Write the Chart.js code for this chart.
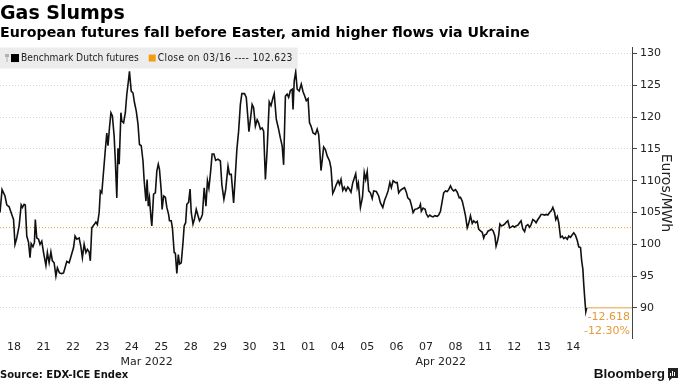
<!DOCTYPE html>
<html>
<head>
<meta charset="utf-8">
<script src="https://cdn.jsdelivr.net/npm/chart.js@4.4.1/dist/chart.umd.min.js"></script>
<style>
  html, body { margin: 0; padding: 0; background: #fff; }
</style>
</head>
<body>
<canvas id="gasChart" width="680" height="383"></canvas>
<script>
var FONT = '"DejaVu Sans", sans-serif';
var NARROW = '"DejaVu Sans Condensed", "DejaVu Sans", sans-serif';

// trading days on the time axis (index = position on the axis)
var dayLabels = ["18","21","22","23","24","25","28","29","30","31","01","04","05","06","07","08","11","12","13","14"];
var monthLabels = ["Mar 2022", "Apr 2022"];
var monthPos = [4.5, 14.5];
var yTicks = [90, 95, 100, 105, 110, 115, 120, 125, 130];

var seriesName = "Benchmark Dutch futures";
var closeDate = "03/16";
var closeRef = 102.623;

// intraday time, in trading days from Mar 18
var times = [
  -0.48,-0.41,-0.31,-0.25,-0.17,-0.08,-0.02,0.03,0.09,0.17,0.24,0.28,0.34,0.38,0.43,0.49,0.54,0.58,0.64,0.69,0.72,0.77,0.83,0.88,0.94,
  1.00,1.08,1.13,1.19,1.25,1.30,1.36,1.42,1.47,1.54,1.62,1.68,1.73,1.79,1.87,1.94,
  2.02,2.07,2.13,2.21,2.27,2.32,2.38,2.44,2.49,2.55,2.59,2.64,2.72,2.78,2.83,2.89,2.93,2.98,
  3.04,3.10,3.15,3.19,3.24,3.29,3.34,3.40,3.44,3.49,3.53,3.57,3.63,3.66,3.72,3.78,3.83,3.89,3.92,3.98,
  4.04,4.09,4.15,4.21,4.26,4.32,4.38,4.42,4.48,4.52,4.56,4.60,4.65,4.68,4.74,4.80,4.85,4.90,4.94,
  5.00,5.03,5.08,5.14,5.19,5.25,5.28,5.34,5.38,5.44,5.48,5.53,5.58,5.62,5.68,5.74,5.78,5.83,5.87,5.93,5.98,
  6.02,6.08,6.13,6.19,6.25,6.30,6.36,6.40,6.46,6.52,6.57,6.62,6.68,6.73,6.79,6.85,6.93,
  7.01,7.06,7.13,7.19,7.27,7.32,7.38,7.46,7.52,7.57,7.63,7.69,7.74,7.83,7.89,7.94,
  7.98,8.03,8.09,8.14,8.20,8.26,8.31,8.37,8.43,8.48,8.54,8.60,8.67,8.73,8.80,8.84,8.91,8.98,
  9.05,9.11,9.16,9.22,9.28,9.33,9.39,9.45,9.48,9.52,9.57,9.62,9.69,9.76,9.82,9.87,9.93,9.99,10.04,
  10.09,10.16,10.24,10.30,10.35,10.38,10.43,10.48,10.52,10.58,10.64,10.72,10.77,10.83,10.88,10.95,
  11.01,11.06,11.11,11.17,11.22,11.28,11.34,11.39,11.45,11.51,11.56,11.61,11.66,11.70,11.77,11.84,11.90,11.95,
  12.00,12.05,12.11,12.17,12.22,12.31,12.39,12.45,12.53,12.59,12.65,12.71,12.77,12.82,12.88,12.96,
  13.02,13.07,13.13,13.19,13.27,13.33,13.38,13.45,13.50,13.56,13.62,13.70,13.77,13.81,13.84,13.90,13.97,
  14.01,14.07,14.13,14.18,14.24,14.30,14.38,14.43,14.49,14.55,14.60,14.66,14.72,14.77,14.83,14.89,14.94,15.00,
  15.06,15.13,15.17,15.23,15.28,15.34,15.40,15.45,15.51,15.57,15.62,15.68,15.74,15.79,15.85,15.91,15.96,
  16.00,16.05,16.11,16.17,16.22,16.28,16.34,16.38,16.43,16.47,16.51,16.56,16.62,16.68,16.73,16.78,16.84,16.89,16.95,
  17.01,17.06,17.12,17.18,17.23,17.29,17.35,17.40,17.46,17.52,17.57,17.63,17.69,17.74,17.80,17.86,17.91,17.97,
  18.03,18.09,18.14,18.20,18.26,18.31,18.37,18.41,18.46,18.51,18.57,18.63,18.68,18.74,18.80,18.85,18.91,18.97,
  19.02,19.08,19.14,19.19,19.25,19.29,19.33,19.36,19.40,19.43,19.46
];

// Euros/MWh
var prices = [
  105.0,108.6,107.6,106.2,105.9,104.7,103.9,100.0,101.0,102.9,106.2,105.8,106.3,106.2,101.3,100.3,97.9,100.1,99.6,100.3,103.9,101.0,100.8,100.0,100.5,
  98.7,96.7,98.7,97.1,98.8,97.4,97.1,95.0,96.3,95.5,95.4,95.5,96.3,97.3,97.1,98.2,
  99.5,101.3,100.8,101.0,99.6,97.9,100.0,98.7,99.2,98.8,97.4,102.6,103.1,103.5,103.1,105.0,108.4,108.1,
  111.5,114.9,117.5,115.5,118.3,120.7,120.2,117.0,113.1,107.3,115.1,112.6,120.7,119.4,119.1,120.7,123.6,125.9,127.2,124.1,
  123.8,122.3,121.0,118.9,115.7,115.5,113.1,110.0,106.8,110.2,106.0,107.3,104.2,102.9,107.9,108.1,111.5,112.6,111.8,
  108.4,105.5,107.6,107.4,105.8,104.7,103.7,103.7,102.6,98.7,98.6,95.4,98.4,96.9,97.1,100.3,102.9,103.4,106.3,106.6,108.7,
  105.0,103.2,104.0,105.5,104.5,103.7,104.2,104.7,108.9,106.0,110.0,108.8,111.5,114.2,114.2,113.2,113.4,
  113.1,109.4,107.1,108.6,112.3,111.0,111.0,106.5,111.0,114.9,117.8,122.0,123.7,123.7,123.1,120.2,
  117.7,119.6,122.0,121.5,118.6,119.6,119.1,118.1,118.3,117.8,110.2,114.9,122.4,121.8,123.1,123.7,119.7,118.3,
  116.7,115.5,112.5,123.3,123.6,123.1,124.2,124.4,121.2,125.7,127.1,124.4,124.1,125.2,124.0,123.4,122.6,122.9,119.1,
  118.6,117.5,117.3,118.1,117.3,115.5,111.6,113.6,115.3,114.9,113.9,113.1,112.0,108.0,108.5,109.4,
  110.0,109.4,110.2,108.5,109.0,108.4,109.0,108.7,108.2,109.7,110.4,111.1,108.9,109.6,105.8,107.4,111.3,110.2,
  111.4,108.4,108.1,107.2,108.4,108.3,107.6,106.5,105.8,106.9,107.6,108.4,109.7,108.9,110.0,109.7,
  109.7,108.1,108.5,108.7,108.9,108.2,107.3,107.0,106.2,105.0,105.5,105.6,105.8,106.3,105.2,105.7,105.5,
  104.8,104.3,104.6,104.4,104.3,104.5,104.4,104.6,105.2,106.8,108.1,108.4,108.3,108.6,109.2,108.6,108.4,108.6,
  108.2,107.3,107.4,106.8,105.8,104.5,102.6,103.3,104.5,103.3,103.7,103.4,103.6,102.4,102.1,101.9,101.0,
  101.5,101.6,102.1,102.2,102.4,102.1,101.3,99.7,100.5,101.5,103.2,102.9,103.0,103.2,103.5,103.7,102.6,102.7,102.9,
  102.7,102.9,103.0,103.4,103.7,102.4,102.0,102.9,103.1,102.7,103.1,103.9,103.7,103.4,103.9,104.3,104.7,104.7,
  104.6,104.7,104.6,105.0,105.3,105.8,105.0,103.9,104.4,103.4,101.1,101.3,100.9,101.1,100.8,101.3,101.1,101.5,
  101.8,101.4,100.6,99.6,99.5,97.4,96.1,93.7,91.1,89.4,90.005
];

var xMin = -0.48, xMax = 21.0;
var lastT = times[times.length - 1];
var lastP = prices[prices.length - 1];
var change = lastP - closeRef;
var changePct = change / closeRef * 100;
var closeLabel = "Close on " + closeDate + " ---- " + closeRef.toFixed(3);

var priceData = times.map(function (t, i) { return { x: t, y: prices[i] }; });

var decor = {
  id: 'decor',
  afterDraw: function (chart) {
    var ctx = chart.ctx, area = chart.chartArea;
    var ys = chart.scales.y;
    ctx.save();

    // legend strip over the top of the plot
    ctx.font = '10.2px ' + NARROW;
    ctx.textAlign = 'left';
    ctx.textBaseline = 'middle';
    var w1 = ctx.measureText(seriesName).width;
    var top = area.top, h = 21, cy = top + h / 2;
    var x2 = 21 + w1 + 10;
    ctx.letterSpacing = '0.35px';
    var w2 = ctx.measureText(closeLabel).width;
    ctx.fillStyle = '#ececec';
    ctx.fillRect(0, top, x2 + 9 + w2 + 5, h);
    ctx.fillStyle = '#b0b0b0';
    ctx.fillRect(5, cy - 4, 4, 3);
    ctx.fillRect(6.5, cy - 1, 1, 5);
    ctx.fillStyle = '#000';
    ctx.fillRect(11, cy - 4, 8, 8);
    ctx.fillStyle = '#f39c12';
    ctx.fillRect(x2, cy - 3.5, 7, 7);
    ctx.fillStyle = '#222';
    ctx.fillText(closeLabel, x2 + 9, cy);
    ctx.letterSpacing = '0px';
    ctx.fillText(seriesName, 21, cy);

    // change since close, under the last value
    var ly = ys.getPixelForValue(lastP);
    ctx.fillStyle = '#e39b3a';
    ctx.font = '11px ' + FONT;
    ctx.textAlign = 'right';
    ctx.fillText(change.toFixed(3), area.right - 2, ly + 9);
    ctx.fillText(changePct.toFixed(2) + '%', area.right - 2, ly + 23);

    // footer
    ctx.fillStyle = '#111';
    ctx.textAlign = 'left';
    ctx.font = 'bold 10px ' + FONT;
    ctx.fillText('Source: EDX-ICE Endex', 0, 375);
    ctx.textAlign = 'right';
    ctx.font = 'bold 13.5px "Liberation Sans", sans-serif';
    ctx.fillText('Bloomberg', 665, 374);
    ctx.fillStyle = '#222';
    ctx.fillRect(668, 368, 10, 10);
    ctx.beginPath();
    ctx.moveTo(669, 378); ctx.lineTo(672, 378); ctx.lineTo(669, 381); ctx.fill();
    ctx.fillStyle = '#fff';
    ctx.fillRect(670, 373, 1, 3);
    ctx.fillRect(672, 371, 1, 5);
    ctx.fillRect(674, 372, 1, 4);
    ctx.restore();
  }
};

var ctx = document.getElementById('gasChart').getContext('2d');
var gasChart = new Chart(ctx, {
  type: 'line',
  data: {
    datasets: [{
      label: seriesName,
      data: priceData,
      borderColor: '#111',
      borderWidth: 1.6,
      pointRadius: 0,
      tension: 0
    }, {
      label: closeLabel,
      data: [{ x: xMin, y: closeRef }, { x: xMax, y: closeRef }],
      borderColor: '#e3a51c',
      borderWidth: 1,
      borderDash: [1, 2],
      pointRadius: 0
    }, {
      label: 'last',
      data: [{ x: lastT, y: lastP }, { x: xMax, y: lastP }],
      borderColor: '#eaa543',
      borderWidth: 1,
      pointRadius: 0
    }]
  },
  options: {
    responsive: false,
    animation: false,
    layout: { padding: { left: 0, right: 0, top: 0, bottom: 12 } },
    plugins: {
      legend: { display: false },
      tooltip: { enabled: false },
      title: {
        display: true,
        text: 'Gas Slumps',
        align: 'start',
        color: '#000',
        font: { family: FONT, weight: 'bold', size: 19, lineHeight: 1.0 },
        padding: { top: 5, bottom: 0 }
      },
      subtitle: {
        display: true,
        text: 'European futures fall before Easter, amid higher flows via Ukraine',
        align: 'start',
        color: '#000',
        font: { family: FONT, weight: 'bold', size: 14.2, lineHeight: 1.2 },
        padding: { top: 1, bottom: 5.5 }
      }
    },
    scales: {
      x: {
        type: 'linear',
        min: xMin,
        max: xMax,
        afterBuildTicks: function (scale) {
          var t = dayLabels.map(function (l, i) { return { value: i }; });
          monthPos.forEach(function (p) { t.push({ value: p }); });
          t.sort(function (a, b) { return a.value - b.value; });
          scale.ticks = t;
        },
        grid: { display: false, drawTicks: false },
        border: { display: false },
        ticks: {
          autoSkip: false,
          maxRotation: 0,
          padding: 2,
          color: '#222',
          font: { family: FONT, size: 11, lineHeight: 1.3 },
          callback: function (v) {
            var m = monthPos.indexOf(v);
            if (m >= 0) return ['', monthLabels[m]];
            return dayLabels[v];
          }
        }
      },
      y: {
        position: 'right',
        min: 85.2,
        max: 130.95,
        afterBuildTicks: function (scale) {
          scale.ticks = yTicks.map(function (v) { return { value: v }; });
        },
        afterFit: function (scale) { scale.width = 48; },
        grid: { color: '#d4d4d4', lineWidth: 1, tickColor: '#444', tickLength: 5 },
        border: { display: true, color: '#444', width: 1, dash: [1, 2] },
        ticks: {
          color: '#222',
          padding: 3,
          font: { family: FONT, size: 11 },
          callback: function (v) { return v; }
        },
        title: {
          display: true,
          text: 'Euros/MWh',
          color: '#222',
          font: { family: FONT, size: 14 },
          padding: { top: 6, bottom: 0 }
        }
      }
    }
  },
  plugins: [decor]
});
</script>
</body>
</html>
